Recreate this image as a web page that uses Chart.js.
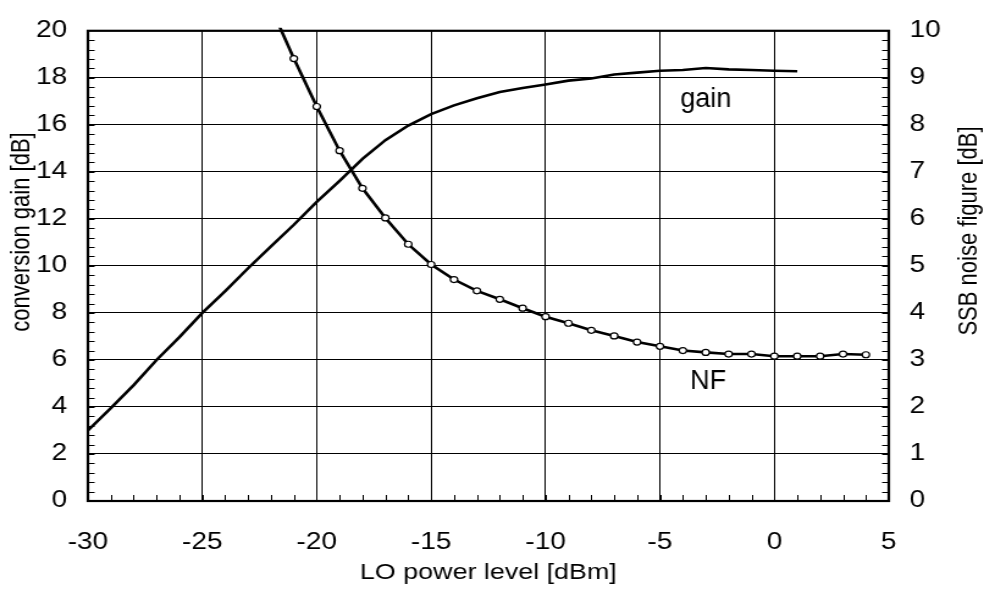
<!DOCTYPE html>
<html>
<head>
<meta charset="utf-8">
<script src="https://cdn.jsdelivr.net/npm/chart.js@4.4.1/dist/chart.umd.min.js"></script>
<style>
  html, body { margin: 0; padding: 0; background: #fff; }
</style>
</head>
<body>
<!-- el original está estirado en horizontal: el canvas es más estrecho y el estilo lo ensancha -->
<canvas id="grafica" width="806" height="591" style="display:block;width:984px;height:591px"></canvas>
<script>
// Potencia del LO [dBm] para la curva de ganancia
const loGanancia = [-30, -29, -28, -27, -26, -25, -24, -23, -22, -21, -20, -19, -18, -17, -16, -15,
  -14, -13, -12, -11, -10, -9, -8, -7, -6, -5, -4, -3, -2, -1, 0, 1];
// Ganancia de conversión [dB] (eje izquierdo)
const ganancia = [3.0, 3.95, 4.93, 6.0, 6.97, 8.0, 8.93, 9.9, 10.83, 11.75, 12.72, 13.62, 14.55, 15.35,
  15.97, 16.46, 16.83, 17.13, 17.4, 17.57, 17.72, 17.88, 17.97, 18.14, 18.22, 18.3, 18.33, 18.42,
  18.36, 18.33, 18.3, 18.28];

// Potencia del LO [dBm] para la figura de ruido (el primer punto queda fuera del gráfico)
const loRuido = [-22, -21, -20, -19, -18, -17, -16, -15, -14, -13, -12, -11, -10, -9, -8, -7, -6,
  -5, -4, -3, -2, -1, 0, 1, 2, 3, 4];
// Figura de ruido SSB [dB] (eje derecho)
const ruido = [10.5, 9.41, 8.39, 7.45, 6.65, 6.02, 5.46, 5.03, 4.71, 4.47, 4.29, 4.1, 3.92, 3.78,
  3.63, 3.51, 3.38, 3.29, 3.2, 3.16, 3.125, 3.125, 3.08, 3.08, 3.08, 3.125, 3.11];

const ESTIRADO = 984 / 806;
const fuente = "'Liberation Sans', Arial, sans-serif";

const puntosGanancia = loGanancia.map((x, i) => ({ x, y: ganancia[i] }));
const puntosRuido = loRuido.map((x, i) => ({ x, y: ruido[i] }));

// Marco, marcas menores, títulos de ejes y etiquetas de las curvas
const extras = {
  id: "extras",
  afterDraw(chart) {
    const ctx = chart.ctx;
    const a = chart.chartArea;
    const sx = chart.scales.x, sy = chart.scales.y, sy1 = chart.scales.y1;
    ctx.save();
    ctx.strokeStyle = "#000";

    // marcas menores
    ctx.lineWidth = 1;
    ctx.beginPath();
    for (let v = -29; v < 5; v++) {
      const px = Math.round(sx.getPixelForValue(v)) + 0.5;
      ctx.moveTo(px, a.bottom);
      ctx.lineTo(px, a.bottom - 6);
    }
    for (let k = 1; k < 50; k++) {
      const py = Math.round(sy.getPixelForValue(k * 0.4)) + 0.5;
      ctx.moveTo(a.left, py);
      ctx.lineTo(a.left + 5.5, py);
      ctx.moveTo(a.right, py);
      ctx.lineTo(a.right - 5.5, py);
    }
    ctx.stroke();

    // marco
    ctx.lineWidth = 2.2;
    ctx.strokeRect(a.left, a.top, a.right - a.left, a.bottom - a.top);

    // títulos
    ctx.fillStyle = "#000";
    ctx.font = "22px " + fuente;
    ctx.textAlign = "center";
    ctx.textBaseline = "alphabetic";
    ctx.fillText("LO power level [dBm]", (a.left + a.right) / 2, 579);

    ctx.save();
    ctx.translate(23.5, 232);
    ctx.rotate(-Math.PI / 2);
    ctx.fillText("conversion gain [dB]", 0, 0);
    ctx.restore();

    ctx.save();
    ctx.translate(800, 231);
    ctx.rotate(-Math.PI / 2);
    ctx.fillText("SSB noise figure [dB]", 0, 0);
    ctx.restore();

    // etiquetas (sin estirar)
    ctx.font = "27px " + fuente;
    const etiqueta = (texto, px, py) => {
      ctx.save();
      ctx.translate(px, py);
      ctx.scale(1 / ESTIRADO, 1);
      ctx.fillText(texto, 0, 0);
      ctx.restore();
    };
    etiqueta("gain", sx.getPixelForValue(-3), sy.getPixelForValue(16.75));
    etiqueta("NF", sx.getPixelForValue(-2.9), sy1.getPixelForValue(2.38));

    ctx.restore();
  }
};

const ticksFuente = { family: fuente, size: 23 };

new Chart(document.getElementById("grafica"), {
  type: "scatter",
  data: {
    datasets: [
      {
        label: "gain",
        data: puntosGanancia,
        showLine: true,
        yAxisID: "y",
        borderColor: "#000",
        borderWidth: 2.6,
        pointRadius: 0,
        tension: 0
      },
      {
        label: "NF",
        data: puntosRuido,
        showLine: true,
        yAxisID: "y1",
        borderColor: "#000",
        borderWidth: 2.6,
        pointRadius: loRuido.map(x => x < -21 ? 0 : 3),
        pointBorderWidth: 1.2,
        pointBorderColor: "#000",
        pointBackgroundColor: "#fff",
        tension: 0,
        clip: { left: 0, top: 3, right: 0, bottom: 0 }
      }
    ]
  },
  options: {
    responsive: false,
    animation: false,
    devicePixelRatio: 1,
    layout: { padding: { top: 21, left: 0, right: 0, bottom: 0 } },
    plugins: { legend: { display: false }, tooltip: { enabled: false } },
    scales: {
      x: {
        type: "linear",
        min: -30,
        max: 5,
        afterFit: s => { s.height = 90; },
        ticks: { stepSize: 5, color: "#000", font: ticksFuente, padding: 28, maxRotation: 0 },
        grid: { color: "#000", lineWidth: 1, drawTicks: false },
        border: { display: false }
      },
      y: {
        position: "left",
        min: 0,
        max: 20,
        afterFit: s => { s.width = 72; },
        ticks: { stepSize: 2, color: "#000", font: ticksFuente, padding: 17 },
        grid: { color: "#000", lineWidth: 1, drawTicks: false },
        border: { display: false }
      },
      y1: {
        position: "right",
        min: 0,
        max: 10,
        afterFit: s => { s.width = 78; },
        ticks: { stepSize: 1, color: "#000", font: ticksFuente, padding: 17 },
        grid: { display: false, drawTicks: false },
        border: { display: false }
      }
    }
  },
  plugins: [extras]
});
</script>
</body>
</html>
